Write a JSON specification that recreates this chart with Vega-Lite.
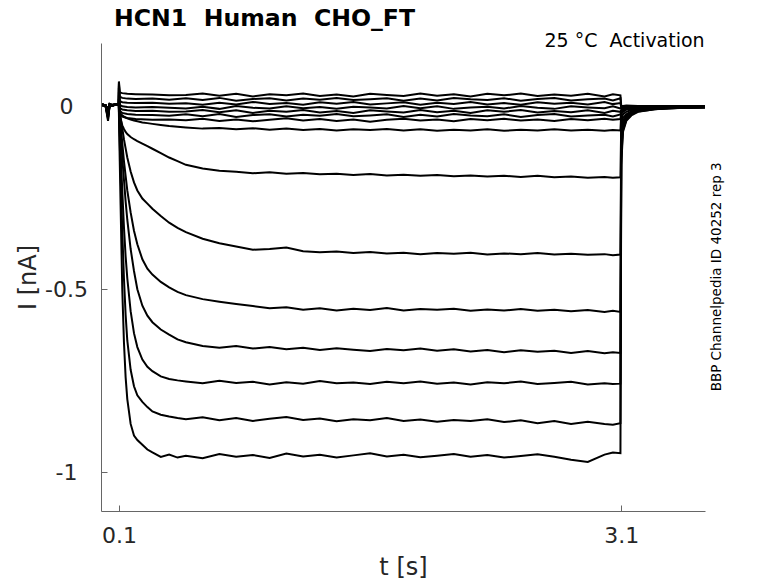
{
  "$schema": "https://vega.github.io/schema/vega-lite/v6.json",
  "width": 604,
  "height": 468,
  "autosize": {"type": "none"},
  "padding": {"left": 101, "top": 43, "right": 73, "bottom": 72},
  "background": "white",
  "config": {
    "view": {"stroke": null},
    "font": "DejaVu Sans",
    "axis": {
      "grid": false,
      "domainColor": "#666666",
      "domainWidth": 1,
      "tickColor": "#666666",
      "tickWidth": 1,
      "tickSize": -6,
      "labelColor": "#262626",
      "titleColor": "#262626",
      "labelFont": "DejaVu Sans",
      "titleFont": "DejaVu Sans",
      "labelFontSize": 22,
      "titleFontSize": 24,
      "titleFontWeight": "normal"
    }
  },
  "title": {
    "text": "HCN1\u00a0 Human\u00a0 CHO_FT",
    "anchor": "start",
    "frame": "group",
    "dx": 13,
    "offset": -18,
    "baseline": "alphabetic",
    "font": "DejaVu Sans",
    "fontSize": 23.6,
    "fontWeight": "bold",
    "color": "#000000"
  },
  "layer": [
    {
      "data": {
        "values": [
          {"s":"a","t":0,"v":0.004},{"s":"a","t":0.02,"v":0.001},{"s":"a","t":0.035,"v":-0.04},{"s":"a","t":0.045,"v":0.006},{"s":"a","t":0.06,"v":0.002},{"s":"a","t":0.08,"v":0.006},{"s":"a","t":0.099,"v":0.004},
          {"s":"a","t":0.1,"v":-0.02},{"s":"a","t":0.105,"v":-0.15},{"s":"a","t":0.11,"v":-0.27},{"s":"a","t":0.12,"v":-0.5},{"s":"a","t":0.13,"v":-0.645},{"s":"a","t":0.14,"v":-0.74},{"s":"a","t":0.15,"v":-0.8},{"s":"a","t":0.17,"v":-0.868},{"s":"a","t":0.19,"v":-0.9},{"s":"a","t":0.21,"v":-0.912},{"s":"a","t":0.24,"v":-0.925},{"s":"a","t":0.27,"v":-0.938},{"s":"a","t":0.3,"v":-0.946},{"s":"a","t":0.35,"v":-0.958},{"s":"a","t":0.4,"v":-0.952},{"s":"a","t":0.45,"v":-0.96},
          {"s":"a","t":0.5,"v":-0.955},{"s":"a","t":0.6,"v":-0.962},{"s":"a","t":0.7,"v":-0.95},{"s":"a","t":0.8,"v":-0.958},{"s":"a","t":0.9,"v":-0.953},{"s":"a","t":1,"v":-0.961},{"s":"a","t":1.1,"v":-0.949},{"s":"a","t":1.2,"v":-0.957},{"s":"a","t":1.3,"v":-0.952},{"s":"a","t":1.4,"v":-0.96},{"s":"a","t":1.5,"v":-0.954},{"s":"a","t":1.6,"v":-0.948},{"s":"a","t":1.7,"v":-0.957},{"s":"a","t":1.8,"v":-0.952},{"s":"a","t":1.9,"v":-0.959},{"s":"a","t":2,"v":-0.955},{"s":"a","t":2.1,"v":-0.95},{"s":"a","t":2.2,"v":-0.958},{"s":"a","t":2.3,"v":-0.953},{"s":"a","t":2.4,"v":-0.96},{"s":"a","t":2.5,"v":-0.956},{"s":"a","t":2.6,"v":-0.951},{"s":"a","t":2.7,"v":-0.958},{"s":"a","t":2.8,"v":-0.966},{"s":"a","t":2.9,"v":-0.972},{"s":"a","t":3,"v":-0.952},{"s":"a","t":3.05,"v":-0.946},{"s":"a","t":3.095,"v":-0.948},
          {"s":"a","t":3.1,"v":-0.16},{"s":"a","t":3.11,"v":-0.07},{"s":"a","t":3.13,"v":-0.04},{"s":"a","t":3.16,"v":-0.025},{"s":"a","t":3.2,"v":-0.015},{"s":"a","t":3.3,"v":-0.008},{"s":"a","t":3.4,"v":-0.004},{"s":"a","t":3.5,"v":-0.003},{"s":"a","t":3.6,"v":-0.002},

          {"s":"b","t":0,"v":0.005},{"s":"b","t":0.02,"v":0.002},{"s":"b","t":0.035,"v":-0.035},{"s":"b","t":0.045,"v":0.005},{"s":"b","t":0.06,"v":0.001},{"s":"b","t":0.08,"v":0.005},{"s":"b","t":0.099,"v":0.004},
          {"s":"b","t":0.1,"v":-0.01},{"s":"b","t":0.105,"v":-0.1},{"s":"b","t":0.11,"v":-0.18},{"s":"b","t":0.12,"v":-0.34},{"s":"b","t":0.13,"v":-0.47},{"s":"b","t":0.14,"v":-0.57},{"s":"b","t":0.15,"v":-0.64},{"s":"b","t":0.17,"v":-0.72},{"s":"b","t":0.19,"v":-0.765},{"s":"b","t":0.21,"v":-0.79},{"s":"b","t":0.24,"v":-0.808},{"s":"b","t":0.27,"v":-0.822},{"s":"b","t":0.3,"v":-0.834},{"s":"b","t":0.35,"v":-0.843},{"s":"b","t":0.4,"v":-0.848},{"s":"b","t":0.45,"v":-0.852},
          {"s":"b","t":0.5,"v":-0.855},{"s":"b","t":0.6,"v":-0.85},{"s":"b","t":0.7,"v":-0.858},{"s":"b","t":0.8,"v":-0.852},{"s":"b","t":0.9,"v":-0.86},{"s":"b","t":1,"v":-0.854},{"s":"b","t":1.1,"v":-0.849},{"s":"b","t":1.2,"v":-0.857},{"s":"b","t":1.3,"v":-0.853},{"s":"b","t":1.4,"v":-0.861},{"s":"b","t":1.5,"v":-0.855},{"s":"b","t":1.6,"v":-0.858},{"s":"b","t":1.7,"v":-0.852},{"s":"b","t":1.8,"v":-0.86},{"s":"b","t":1.9,"v":-0.856},{"s":"b","t":2,"v":-0.862},{"s":"b","t":2.1,"v":-0.857},{"s":"b","t":2.2,"v":-0.86},{"s":"b","t":2.3,"v":-0.855},{"s":"b","t":2.4,"v":-0.863},{"s":"b","t":2.5,"v":-0.858},{"s":"b","t":2.6,"v":-0.866},{"s":"b","t":2.7,"v":-0.86},{"s":"b","t":2.8,"v":-0.868},{"s":"b","t":2.9,"v":-0.862},{"s":"b","t":3,"v":-0.868},{"s":"b","t":3.05,"v":-0.87},{"s":"b","t":3.095,"v":-0.866},
          {"s":"b","t":3.1,"v":-0.14},{"s":"b","t":3.11,"v":-0.065},{"s":"b","t":3.13,"v":-0.037},{"s":"b","t":3.16,"v":-0.022},{"s":"b","t":3.2,"v":-0.014},{"s":"b","t":3.3,"v":-0.008},{"s":"b","t":3.4,"v":-0.005},{"s":"b","t":3.5,"v":-0.003},{"s":"b","t":3.6,"v":-0.003},

          {"s":"c","t":0,"v":0.003},{"s":"c","t":0.02,"v":0.001},{"s":"c","t":0.035,"v":-0.03},{"s":"c","t":0.045,"v":0.004},{"s":"c","t":0.06,"v":0.003},{"s":"c","t":0.08,"v":0.006},{"s":"c","t":0.099,"v":0.004},
          {"s":"c","t":0.1,"v":-0.005},{"s":"c","t":0.105,"v":-0.07},{"s":"c","t":0.11,"v":-0.12},{"s":"c","t":0.12,"v":-0.23},{"s":"c","t":0.13,"v":-0.33},{"s":"c","t":0.14,"v":-0.41},{"s":"c","t":0.15,"v":-0.47},{"s":"c","t":0.17,"v":-0.56},{"s":"c","t":0.19,"v":-0.62},{"s":"c","t":0.21,"v":-0.658},{"s":"c","t":0.24,"v":-0.692},{"s":"c","t":0.27,"v":-0.712},{"s":"c","t":0.3,"v":-0.724},{"s":"c","t":0.35,"v":-0.738},{"s":"c","t":0.4,"v":-0.745},{"s":"c","t":0.45,"v":-0.749},
          {"s":"c","t":0.5,"v":-0.752},{"s":"c","t":0.6,"v":-0.757},{"s":"c","t":0.7,"v":-0.75},{"s":"c","t":0.8,"v":-0.756},{"s":"c","t":0.9,"v":-0.753},{"s":"c","t":1,"v":-0.76},{"s":"c","t":1.1,"v":-0.754},{"s":"c","t":1.2,"v":-0.758},{"s":"c","t":1.3,"v":-0.751},{"s":"c","t":1.4,"v":-0.757},{"s":"c","t":1.5,"v":-0.755},{"s":"c","t":1.6,"v":-0.759},{"s":"c","t":1.7,"v":-0.753},{"s":"c","t":1.8,"v":-0.757},{"s":"c","t":1.9,"v":-0.752},{"s":"c","t":2,"v":-0.758},{"s":"c","t":2.1,"v":-0.755},{"s":"c","t":2.2,"v":-0.76},{"s":"c","t":2.3,"v":-0.754},{"s":"c","t":2.4,"v":-0.757},{"s":"c","t":2.5,"v":-0.752},{"s":"c","t":2.6,"v":-0.759},{"s":"c","t":2.7,"v":-0.756},{"s":"c","t":2.8,"v":-0.753},{"s":"c","t":2.9,"v":-0.76},{"s":"c","t":3,"v":-0.757},{"s":"c","t":3.05,"v":-0.759},{"s":"c","t":3.095,"v":-0.758},
          {"s":"c","t":3.1,"v":-0.12},{"s":"c","t":3.11,"v":-0.055},{"s":"c","t":3.13,"v":-0.033},{"s":"c","t":3.16,"v":-0.02},{"s":"c","t":3.2,"v":-0.013},{"s":"c","t":3.3,"v":-0.007},{"s":"c","t":3.4,"v":-0.005},{"s":"c","t":3.5,"v":-0.004},{"s":"c","t":3.6,"v":-0.003},

          {"s":"d","t":0,"v":0.004},{"s":"d","t":0.02,"v":0.003},{"s":"d","t":0.035,"v":-0.025},{"s":"d","t":0.045,"v":0.006},{"s":"d","t":0.06,"v":0.002},{"s":"d","t":0.08,"v":0.004},{"s":"d","t":0.099,"v":0.004},
          {"s":"d","t":0.1,"v":0},{"s":"d","t":0.105,"v":-0.04},{"s":"d","t":0.11,"v":-0.07},{"s":"d","t":0.12,"v":-0.14},{"s":"d","t":0.13,"v":-0.2},{"s":"d","t":0.14,"v":-0.26},{"s":"d","t":0.15,"v":-0.31},{"s":"d","t":0.17,"v":-0.39},{"s":"d","t":0.19,"v":-0.45},{"s":"d","t":0.21,"v":-0.5},{"s":"d","t":0.24,"v":-0.545},{"s":"d","t":0.27,"v":-0.572},{"s":"d","t":0.3,"v":-0.59},{"s":"d","t":0.35,"v":-0.61},{"s":"d","t":0.4,"v":-0.624},{"s":"d","t":0.45,"v":-0.637},
          {"s":"d","t":0.5,"v":-0.645},{"s":"d","t":0.6,"v":-0.655},{"s":"d","t":0.7,"v":-0.66},{"s":"d","t":0.8,"v":-0.655},{"s":"d","t":0.9,"v":-0.662},{"s":"d","t":1,"v":-0.658},{"s":"d","t":1.1,"v":-0.664},{"s":"d","t":1.2,"v":-0.66},{"s":"d","t":1.3,"v":-0.666},{"s":"d","t":1.4,"v":-0.661},{"s":"d","t":1.5,"v":-0.665},{"s":"d","t":1.6,"v":-0.669},{"s":"d","t":1.7,"v":-0.663},{"s":"d","t":1.8,"v":-0.667},{"s":"d","t":1.9,"v":-0.662},{"s":"d","t":2,"v":-0.668},{"s":"d","t":2.1,"v":-0.664},{"s":"d","t":2.2,"v":-0.67},{"s":"d","t":2.3,"v":-0.666},{"s":"d","t":2.4,"v":-0.672},{"s":"d","t":2.5,"v":-0.667},{"s":"d","t":2.6,"v":-0.671},{"s":"d","t":2.7,"v":-0.668},{"s":"d","t":2.8,"v":-0.674},{"s":"d","t":2.9,"v":-0.669},{"s":"d","t":3,"v":-0.675},{"s":"d","t":3.05,"v":-0.672},{"s":"d","t":3.095,"v":-0.674},
          {"s":"d","t":3.1,"v":-0.1},{"s":"d","t":3.11,"v":-0.048},{"s":"d","t":3.13,"v":-0.03},{"s":"d","t":3.16,"v":-0.018},{"s":"d","t":3.2,"v":-0.012},{"s":"d","t":3.3,"v":-0.007},{"s":"d","t":3.4,"v":-0.005},{"s":"d","t":3.5,"v":-0.003},{"s":"d","t":3.6,"v":-0.003},

          {"s":"e","t":0,"v":0.003},{"s":"e","t":0.02,"v":0.001},{"s":"e","t":0.035,"v":-0.022},{"s":"e","t":0.045,"v":0.004},{"s":"e","t":0.06,"v":0.004},{"s":"e","t":0.08,"v":0.006},{"s":"e","t":0.099,"v":0.004},
          {"s":"e","t":0.1,"v":0.005},{"s":"e","t":0.105,"v":-0.025},{"s":"e","t":0.11,"v":-0.05},{"s":"e","t":0.12,"v":-0.1},{"s":"e","t":0.13,"v":-0.15},{"s":"e","t":0.14,"v":-0.19},{"s":"e","t":0.15,"v":-0.23},{"s":"e","t":0.17,"v":-0.29},{"s":"e","t":0.19,"v":-0.34},{"s":"e","t":0.21,"v":-0.377},{"s":"e","t":0.24,"v":-0.418},{"s":"e","t":0.27,"v":-0.444},{"s":"e","t":0.3,"v":-0.46},{"s":"e","t":0.35,"v":-0.48},{"s":"e","t":0.4,"v":-0.495},{"s":"e","t":0.45,"v":-0.507},
          {"s":"e","t":0.5,"v":-0.516},{"s":"e","t":0.6,"v":-0.527},{"s":"e","t":0.7,"v":-0.534},{"s":"e","t":0.8,"v":-0.54},{"s":"e","t":0.9,"v":-0.546},{"s":"e","t":1,"v":-0.552},{"s":"e","t":1.1,"v":-0.549},{"s":"e","t":1.2,"v":-0.556},{"s":"e","t":1.3,"v":-0.552},{"s":"e","t":1.4,"v":-0.558},{"s":"e","t":1.5,"v":-0.553},{"s":"e","t":1.6,"v":-0.557},{"s":"e","t":1.7,"v":-0.551},{"s":"e","t":1.8,"v":-0.558},{"s":"e","t":1.9,"v":-0.554},{"s":"e","t":2,"v":-0.556},{"s":"e","t":2.1,"v":-0.553},{"s":"e","t":2.2,"v":-0.559},{"s":"e","t":2.3,"v":-0.555},{"s":"e","t":2.4,"v":-0.558},{"s":"e","t":2.5,"v":-0.554},{"s":"e","t":2.6,"v":-0.559},{"s":"e","t":2.7,"v":-0.556},{"s":"e","t":2.8,"v":-0.56},{"s":"e","t":2.9,"v":-0.557},{"s":"e","t":3,"v":-0.562},{"s":"e","t":3.05,"v":-0.559},{"s":"e","t":3.095,"v":-0.562},
          {"s":"e","t":3.1,"v":-0.08},{"s":"e","t":3.11,"v":-0.04},{"s":"e","t":3.13,"v":-0.026},{"s":"e","t":3.16,"v":-0.016},{"s":"e","t":3.2,"v":-0.011},{"s":"e","t":3.3,"v":-0.006},{"s":"e","t":3.4,"v":-0.004},{"s":"e","t":3.5,"v":-0.003},{"s":"e","t":3.6,"v":-0.002},

          {"s":"f","t":0,"v":0.005},{"s":"f","t":0.02,"v":0.002},{"s":"f","t":0.035,"v":-0.02},{"s":"f","t":0.045,"v":0.005},{"s":"f","t":0.06,"v":0.002},{"s":"f","t":0.08,"v":0.005},{"s":"f","t":0.099,"v":0.004},
          {"s":"f","t":0.1,"v":0.01},{"s":"f","t":0.105,"v":-0.015},{"s":"f","t":0.11,"v":-0.03},{"s":"f","t":0.12,"v":-0.06},{"s":"f","t":0.13,"v":-0.09},{"s":"f","t":0.14,"v":-0.115},{"s":"f","t":0.15,"v":-0.14},{"s":"f","t":0.17,"v":-0.178},{"s":"f","t":0.19,"v":-0.208},{"s":"f","t":0.21,"v":-0.23},{"s":"f","t":0.24,"v":-0.252},{"s":"f","t":0.27,"v":-0.266},{"s":"f","t":0.3,"v":-0.28},{"s":"f","t":0.35,"v":-0.3},{"s":"f","t":0.4,"v":-0.318},{"s":"f","t":0.45,"v":-0.332},
          {"s":"f","t":0.5,"v":-0.344},{"s":"f","t":0.6,"v":-0.362},{"s":"f","t":0.7,"v":-0.374},{"s":"f","t":0.8,"v":-0.383},{"s":"f","t":0.9,"v":-0.392},{"s":"f","t":1,"v":-0.39},{"s":"f","t":1.1,"v":-0.386},{"s":"f","t":1.2,"v":-0.396},{"s":"f","t":1.3,"v":-0.399},{"s":"f","t":1.4,"v":-0.397},{"s":"f","t":1.5,"v":-0.401},{"s":"f","t":1.6,"v":-0.398},{"s":"f","t":1.7,"v":-0.402},{"s":"f","t":1.8,"v":-0.4},{"s":"f","t":1.9,"v":-0.404},{"s":"f","t":2,"v":-0.401},{"s":"f","t":2.1,"v":-0.403},{"s":"f","t":2.2,"v":-0.4},{"s":"f","t":2.3,"v":-0.405},{"s":"f","t":2.4,"v":-0.402},{"s":"f","t":2.5,"v":-0.404},{"s":"f","t":2.6,"v":-0.401},{"s":"f","t":2.7,"v":-0.405},{"s":"f","t":2.8,"v":-0.403},{"s":"f","t":2.9,"v":-0.406},{"s":"f","t":3,"v":-0.404},{"s":"f","t":3.05,"v":-0.407},{"s":"f","t":3.095,"v":-0.405},
          {"s":"f","t":3.1,"v":-0.06},{"s":"f","t":3.11,"v":-0.032},{"s":"f","t":3.13,"v":-0.022},{"s":"f","t":3.16,"v":-0.014},{"s":"f","t":3.2,"v":-0.009},{"s":"f","t":3.3,"v":-0.005},{"s":"f","t":3.4,"v":-0.004},{"s":"f","t":3.5,"v":-0.003},{"s":"f","t":3.6,"v":-0.002},

          {"s":"g","t":0,"v":0.004},{"s":"g","t":0.02,"v":0.003},{"s":"g","t":0.035,"v":-0.018},{"s":"g","t":0.045,"v":0.004},{"s":"g","t":0.06,"v":0.001},{"s":"g","t":0.08,"v":0.005},{"s":"g","t":0.099,"v":0.004},
          {"s":"g","t":0.1,"v":0.02},{"s":"g","t":0.105,"v":-0.02},{"s":"g","t":0.11,"v":-0.035},{"s":"g","t":0.12,"v":-0.052},{"s":"g","t":0.13,"v":-0.062},{"s":"g","t":0.14,"v":-0.07},{"s":"g","t":0.15,"v":-0.076},{"s":"g","t":0.17,"v":-0.084},{"s":"g","t":0.19,"v":-0.09},{"s":"g","t":0.21,"v":-0.095},{"s":"g","t":0.24,"v":-0.102},{"s":"g","t":0.27,"v":-0.109},{"s":"g","t":0.3,"v":-0.116},{"s":"g","t":0.35,"v":-0.128},{"s":"g","t":0.4,"v":-0.14},{"s":"g","t":0.45,"v":-0.15},
          {"s":"g","t":0.5,"v":-0.16},{"s":"g","t":0.6,"v":-0.17},{"s":"g","t":0.7,"v":-0.176},{"s":"g","t":0.8,"v":-0.179},{"s":"g","t":0.9,"v":-0.183},{"s":"g","t":1,"v":-0.18},{"s":"g","t":1.1,"v":-0.184},{"s":"g","t":1.2,"v":-0.182},{"s":"g","t":1.3,"v":-0.186},{"s":"g","t":1.4,"v":-0.184},{"s":"g","t":1.5,"v":-0.188},{"s":"g","t":1.6,"v":-0.185},{"s":"g","t":1.7,"v":-0.189},{"s":"g","t":1.8,"v":-0.187},{"s":"g","t":1.9,"v":-0.19},{"s":"g","t":2,"v":-0.188},{"s":"g","t":2.1,"v":-0.191},{"s":"g","t":2.2,"v":-0.189},{"s":"g","t":2.3,"v":-0.192},{"s":"g","t":2.4,"v":-0.19},{"s":"g","t":2.5,"v":-0.193},{"s":"g","t":2.6,"v":-0.19},{"s":"g","t":2.7,"v":-0.194},{"s":"g","t":2.8,"v":-0.192},{"s":"g","t":2.9,"v":-0.195},{"s":"g","t":3,"v":-0.193},{"s":"g","t":3.05,"v":-0.195},{"s":"g","t":3.095,"v":-0.194},
          {"s":"g","t":3.1,"v":-0.04},{"s":"g","t":3.11,"v":-0.022},{"s":"g","t":3.13,"v":-0.015},{"s":"g","t":3.16,"v":-0.01},{"s":"g","t":3.2,"v":-0.007},{"s":"g","t":3.3,"v":-0.005},{"s":"g","t":3.4,"v":-0.003},{"s":"g","t":3.5,"v":-0.003},{"s":"g","t":3.6,"v":-0.002},

          {"s":"h","t":0,"v":0.005},{"s":"h","t":0.02,"v":0.002},{"s":"h","t":0.035,"v":-0.015},{"s":"h","t":0.045,"v":0.006},{"s":"h","t":0.06,"v":0.003},{"s":"h","t":0.08,"v":0.005},{"s":"h","t":0.099,"v":0.004},
          {"s":"h","t":0.1,"v":0.03},{"s":"h","t":0.105,"v":-0.012},{"s":"h","t":0.11,"v":-0.02},{"s":"h","t":0.12,"v":-0.025},{"s":"h","t":0.13,"v":-0.028},{"s":"h","t":0.14,"v":-0.031},{"s":"h","t":0.15,"v":-0.033},{"s":"h","t":0.17,"v":-0.036},{"s":"h","t":0.19,"v":-0.039},{"s":"h","t":0.21,"v":-0.041},{"s":"h","t":0.24,"v":-0.044},{"s":"h","t":0.27,"v":-0.046},{"s":"h","t":0.3,"v":-0.048},{"s":"h","t":0.35,"v":-0.051},{"s":"h","t":0.4,"v":-0.054},{"s":"h","t":0.45,"v":-0.056},
          {"s":"h","t":0.5,"v":-0.058},{"s":"h","t":0.6,"v":-0.061},{"s":"h","t":0.7,"v":-0.059},{"s":"h","t":0.8,"v":-0.063},{"s":"h","t":0.9,"v":-0.06},{"s":"h","t":1,"v":-0.064},{"s":"h","t":1.1,"v":-0.061},{"s":"h","t":1.2,"v":-0.065},{"s":"h","t":1.3,"v":-0.062},{"s":"h","t":1.4,"v":-0.066},{"s":"h","t":1.5,"v":-0.063},{"s":"h","t":1.6,"v":-0.065},{"s":"h","t":1.7,"v":-0.062},{"s":"h","t":1.8,"v":-0.066},{"s":"h","t":1.9,"v":-0.063},{"s":"h","t":2,"v":-0.067},{"s":"h","t":2.1,"v":-0.064},{"s":"h","t":2.2,"v":-0.066},{"s":"h","t":2.3,"v":-0.063},{"s":"h","t":2.4,"v":-0.067},{"s":"h","t":2.5,"v":-0.064},{"s":"h","t":2.6,"v":-0.066},{"s":"h","t":2.7,"v":-0.063},{"s":"h","t":2.8,"v":-0.066},{"s":"h","t":2.9,"v":-0.064},{"s":"h","t":3,"v":-0.067},{"s":"h","t":3.05,"v":-0.065},{"s":"h","t":3.095,"v":-0.066},
          {"s":"h","t":3.1,"v":-0.02},{"s":"h","t":3.11,"v":-0.012},{"s":"h","t":3.13,"v":-0.009},{"s":"h","t":3.16,"v":-0.007},{"s":"h","t":3.2,"v":-0.005},{"s":"h","t":3.3,"v":-0.004},{"s":"h","t":3.4,"v":-0.003},{"s":"h","t":3.5,"v":-0.002},{"s":"h","t":3.6,"v":-0.002},

          {"s":"i","t":0,"v":0.005},{"s":"i","t":0.02,"v":0.002},{"s":"i","t":0.035,"v":-0.03},{"s":"i","t":0.045,"v":0.006},{"s":"i","t":0.06,"v":0.003},{"s":"i","t":0.08,"v":0.005},{"s":"i","t":0.099,"v":0.004},
          {"s":"i","t":0.1,"v":0.02},{"s":"i","t":0.105,"v":-0.02},{"s":"i","t":0.12,"v":-0.028},{"s":"i","t":0.15,"v":-0.032},{"s":"i","t":0.2,"v":-0.035},{"s":"i","t":0.3,"v":-0.037},{"s":"i","t":0.4,"v":-0.036},
          {"s":"i","t":0.5,"v":-0.038},{"s":"i","t":0.6,"v":-0.034},{"s":"i","t":0.7,"v":-0.04},{"s":"i","t":0.8,"v":-0.036},{"s":"i","t":0.9,"v":-0.041},{"s":"i","t":1,"v":-0.037},{"s":"i","t":1.1,"v":-0.033},{"s":"i","t":1.2,"v":-0.039},{"s":"i","t":1.3,"v":-0.035},{"s":"i","t":1.4,"v":-0.04},{"s":"i","t":1.5,"v":-0.036},{"s":"i","t":1.6,"v":-0.042},{"s":"i","t":1.7,"v":-0.037},{"s":"i","t":1.8,"v":-0.034},{"s":"i","t":1.9,"v":-0.039},{"s":"i","t":2,"v":-0.036},{"s":"i","t":2.1,"v":-0.041},{"s":"i","t":2.2,"v":-0.035},{"s":"i","t":2.3,"v":-0.038},{"s":"i","t":2.4,"v":-0.034},{"s":"i","t":2.5,"v":-0.039},{"s":"i","t":2.6,"v":-0.036},{"s":"i","t":2.7,"v":-0.04},{"s":"i","t":2.8,"v":-0.035},{"s":"i","t":2.9,"v":-0.038},{"s":"i","t":3,"v":-0.034},{"s":"i","t":3.05,"v":-0.037},{"s":"i","t":3.095,"v":-0.035},
          {"s":"i","t":3.1,"v":-0.02},{"s":"i","t":3.13,"v":-0.008},{"s":"i","t":3.2,"v":-0.003},{"s":"i","t":3.3,"v":-0.001},{"s":"i","t":3.4,"v":0},{"s":"i","t":3.5,"v":-0.001},{"s":"i","t":3.6,"v":0},

          {"s":"j","t":0,"v":0.004},{"s":"j","t":0.02,"v":0.003},{"s":"j","t":0.035,"v":-0.025},{"s":"j","t":0.045,"v":0.005},{"s":"j","t":0.06,"v":0.002},{"s":"j","t":0.08,"v":0.006},{"s":"j","t":0.099,"v":0.004},
          {"s":"j","t":0.1,"v":0.04},{"s":"j","t":0.105,"v":-0.012},{"s":"j","t":0.12,"v":-0.018},{"s":"j","t":0.15,"v":-0.021},{"s":"j","t":0.2,"v":-0.023},{"s":"j","t":0.3,"v":-0.024},{"s":"j","t":0.4,"v":-0.026},
          {"s":"j","t":0.5,"v":-0.022},{"s":"j","t":0.6,"v":-0.027},{"s":"j","t":0.7,"v":-0.021},{"s":"j","t":0.8,"v":-0.029},{"s":"j","t":0.9,"v":-0.024},{"s":"j","t":1,"v":-0.022},{"s":"j","t":1.1,"v":-0.028},{"s":"j","t":1.2,"v":-0.023},{"s":"j","t":1.3,"v":-0.026},{"s":"j","t":1.4,"v":-0.021},{"s":"j","t":1.5,"v":-0.027},{"s":"j","t":1.6,"v":-0.025},{"s":"j","t":1.7,"v":-0.022},{"s":"j","t":1.8,"v":-0.029},{"s":"j","t":1.9,"v":-0.023},{"s":"j","t":2,"v":-0.028},{"s":"j","t":2.1,"v":-0.021},{"s":"j","t":2.2,"v":-0.025},{"s":"j","t":2.3,"v":-0.027},{"s":"j","t":2.4,"v":-0.022},{"s":"j","t":2.5,"v":-0.029},{"s":"j","t":2.6,"v":-0.024},{"s":"j","t":2.7,"v":-0.021},{"s":"j","t":2.8,"v":-0.028},{"s":"j","t":2.9,"v":-0.025},{"s":"j","t":3,"v":-0.023},{"s":"j","t":3.05,"v":-0.028},{"s":"j","t":3.095,"v":-0.022},
          {"s":"j","t":3.1,"v":-0.015},{"s":"j","t":3.13,"v":-0.006},{"s":"j","t":3.2,"v":-0.002},{"s":"j","t":3.3,"v":0},{"s":"j","t":3.4,"v":-0.001},{"s":"j","t":3.5,"v":0.001},{"s":"j","t":3.6,"v":0},

          {"s":"k","t":0,"v":0.006},{"s":"k","t":0.02,"v":0.002},{"s":"k","t":0.035,"v":-0.02},{"s":"k","t":0.045,"v":0.004},{"s":"k","t":0.06,"v":0.003},{"s":"k","t":0.08,"v":0.004},{"s":"k","t":0.099,"v":0.004},
          {"s":"k","t":0.1,"v":0.05},{"s":"k","t":0.105,"v":-0.004},{"s":"k","t":0.12,"v":-0.009},{"s":"k","t":0.15,"v":-0.011},{"s":"k","t":0.2,"v":-0.013},{"s":"k","t":0.3,"v":-0.012},{"s":"k","t":0.4,"v":-0.015},
          {"s":"k","t":0.5,"v":-0.014},{"s":"k","t":0.6,"v":-0.01},{"s":"k","t":0.7,"v":-0.016},{"s":"k","t":0.8,"v":-0.011},{"s":"k","t":0.9,"v":-0.018},{"s":"k","t":1,"v":-0.012},{"s":"k","t":1.1,"v":-0.015},{"s":"k","t":1.2,"v":-0.01},{"s":"k","t":1.3,"v":-0.017},{"s":"k","t":1.4,"v":-0.013},{"s":"k","t":1.5,"v":-0.018},{"s":"k","t":1.6,"v":-0.011},{"s":"k","t":1.7,"v":-0.014},{"s":"k","t":1.8,"v":-0.017},{"s":"k","t":1.9,"v":-0.01},{"s":"k","t":2,"v":-0.016},{"s":"k","t":2.1,"v":-0.012},{"s":"k","t":2.2,"v":-0.018},{"s":"k","t":2.3,"v":-0.011},{"s":"k","t":2.4,"v":-0.015},{"s":"k","t":2.5,"v":-0.01},{"s":"k","t":2.6,"v":-0.017},{"s":"k","t":2.7,"v":-0.013},{"s":"k","t":2.8,"v":-0.016},{"s":"k","t":2.9,"v":-0.011},{"s":"k","t":3,"v":-0.018},{"s":"k","t":3.05,"v":-0.012},{"s":"k","t":3.095,"v":-0.015},
          {"s":"k","t":3.1,"v":-0.01},{"s":"k","t":3.13,"v":-0.004},{"s":"k","t":3.2,"v":-0.001},{"s":"k","t":3.3,"v":0.001},{"s":"k","t":3.4,"v":0},{"s":"k","t":3.5,"v":-0.001},{"s":"k","t":3.6,"v":0.001},

          {"s":"l","t":0,"v":0.005},{"s":"l","t":0.02,"v":0.001},{"s":"l","t":0.035,"v":-0.015},{"s":"l","t":0.045,"v":0.006},{"s":"l","t":0.06,"v":0.004},{"s":"l","t":0.08,"v":0.005},{"s":"l","t":0.099,"v":0.004},
          {"s":"l","t":0.1,"v":0.055},{"s":"l","t":0.105,"v":0.004},{"s":"l","t":0.12,"v":0},{"s":"l","t":0.15,"v":-0.002},{"s":"l","t":0.2,"v":-0.003},{"s":"l","t":0.3,"v":-0.002},{"s":"l","t":0.4,"v":-0.004},
          {"s":"l","t":0.5,"v":-0.006},{"s":"l","t":0.6,"v":-0.001},{"s":"l","t":0.7,"v":-0.007},{"s":"l","t":0.8,"v":0.001},{"s":"l","t":0.9,"v":-0.004},{"s":"l","t":1,"v":-0.006},{"s":"l","t":1.1,"v":0},{"s":"l","t":1.2,"v":-0.005},{"s":"l","t":1.3,"v":-0.002},{"s":"l","t":1.4,"v":-0.007},{"s":"l","t":1.5,"v":-0.001},{"s":"l","t":1.6,"v":-0.003},{"s":"l","t":1.7,"v":-0.006},{"s":"l","t":1.8,"v":0.001},{"s":"l","t":1.9,"v":-0.005},{"s":"l","t":2,"v":0},{"s":"l","t":2.1,"v":-0.007},{"s":"l","t":2.2,"v":-0.003},{"s":"l","t":2.3,"v":-0.001},{"s":"l","t":2.4,"v":-0.006},{"s":"l","t":2.5,"v":0.001},{"s":"l","t":2.6,"v":-0.004},{"s":"l","t":2.7,"v":-0.007},{"s":"l","t":2.8,"v":0},{"s":"l","t":2.9,"v":-0.003},{"s":"l","t":3,"v":-0.005},{"s":"l","t":3.05,"v":0},{"s":"l","t":3.095,"v":-0.006},
          {"s":"l","t":3.1,"v":-0.006},{"s":"l","t":3.13,"v":-0.002},{"s":"l","t":3.2,"v":0},{"s":"l","t":3.3,"v":0.001},{"s":"l","t":3.4,"v":-0.001},{"s":"l","t":3.5,"v":0.001},{"s":"l","t":3.6,"v":0},

          {"s":"m","t":0,"v":0.004},{"s":"m","t":0.02,"v":0.003},{"s":"m","t":0.035,"v":-0.01},{"s":"m","t":0.045,"v":0.005},{"s":"m","t":0.06,"v":0.002},{"s":"m","t":0.08,"v":0.006},{"s":"m","t":0.099,"v":0.004},
          {"s":"m","t":0.1,"v":0.06},{"s":"m","t":0.105,"v":0.014},{"s":"m","t":0.12,"v":0.011},{"s":"m","t":0.15,"v":0.01},{"s":"m","t":0.2,"v":0.009},{"s":"m","t":0.3,"v":0.01},{"s":"m","t":0.4,"v":0.007},
          {"s":"m","t":0.5,"v":0.008},{"s":"m","t":0.6,"v":0.004},{"s":"m","t":0.7,"v":0.01},{"s":"m","t":0.8,"v":0.005},{"s":"m","t":0.9,"v":0.012},{"s":"m","t":1,"v":0.006},{"s":"m","t":1.1,"v":0.009},{"s":"m","t":1.2,"v":0.004},{"s":"m","t":1.3,"v":0.011},{"s":"m","t":1.4,"v":0.007},{"s":"m","t":1.5,"v":0.012},{"s":"m","t":1.6,"v":0.005},{"s":"m","t":1.7,"v":0.008},{"s":"m","t":1.8,"v":0.011},{"s":"m","t":1.9,"v":0.004},{"s":"m","t":2,"v":0.01},{"s":"m","t":2.1,"v":0.006},{"s":"m","t":2.2,"v":0.012},{"s":"m","t":2.3,"v":0.005},{"s":"m","t":2.4,"v":0.009},{"s":"m","t":2.5,"v":0.004},{"s":"m","t":2.6,"v":0.011},{"s":"m","t":2.7,"v":0.007},{"s":"m","t":2.8,"v":0.01},{"s":"m","t":2.9,"v":0.005},{"s":"m","t":3,"v":0.012},{"s":"m","t":3.05,"v":0.006},{"s":"m","t":3.095,"v":0.009},
          {"s":"m","t":3.1,"v":-0.004},{"s":"m","t":3.13,"v":0},{"s":"m","t":3.2,"v":0.001},{"s":"m","t":3.3,"v":0},{"s":"m","t":3.4,"v":0.001},{"s":"m","t":3.5,"v":-0.001},{"s":"m","t":3.6,"v":0.001},

          {"s":"n","t":0,"v":0.005},{"s":"n","t":0.02,"v":0.002},{"s":"n","t":0.035,"v":-0.008},{"s":"n","t":0.045,"v":0.006},{"s":"n","t":0.06,"v":0.003},{"s":"n","t":0.08,"v":0.004},{"s":"n","t":0.099,"v":0.004},
          {"s":"n","t":0.1,"v":0.065},{"s":"n","t":0.105,"v":0.026},{"s":"n","t":0.12,"v":0.023},{"s":"n","t":0.15,"v":0.021},{"s":"n","t":0.2,"v":0.02},{"s":"n","t":0.3,"v":0.021},{"s":"n","t":0.4,"v":0.018},
          {"s":"n","t":0.5,"v":0.022},{"s":"n","t":0.6,"v":0.017},{"s":"n","t":0.7,"v":0.023},{"s":"n","t":0.8,"v":0.015},{"s":"n","t":0.9,"v":0.02},{"s":"n","t":1,"v":0.022},{"s":"n","t":1.1,"v":0.016},{"s":"n","t":1.2,"v":0.021},{"s":"n","t":1.3,"v":0.018},{"s":"n","t":1.4,"v":0.023},{"s":"n","t":1.5,"v":0.017},{"s":"n","t":1.6,"v":0.019},{"s":"n","t":1.7,"v":0.022},{"s":"n","t":1.8,"v":0.015},{"s":"n","t":1.9,"v":0.021},{"s":"n","t":2,"v":0.016},{"s":"n","t":2.1,"v":0.023},{"s":"n","t":2.2,"v":0.019},{"s":"n","t":2.3,"v":0.017},{"s":"n","t":2.4,"v":0.022},{"s":"n","t":2.5,"v":0.015},{"s":"n","t":2.6,"v":0.02},{"s":"n","t":2.7,"v":0.023},{"s":"n","t":2.8,"v":0.016},{"s":"n","t":2.9,"v":0.019},{"s":"n","t":3,"v":0.021},{"s":"n","t":3.05,"v":0.016},{"s":"n","t":3.095,"v":0.022},
          {"s":"n","t":3.1,"v":-0.002},{"s":"n","t":3.13,"v":0.001},{"s":"n","t":3.2,"v":0},{"s":"n","t":3.3,"v":0.001},{"s":"n","t":3.4,"v":0},{"s":"n","t":3.5,"v":0.001},{"s":"n","t":3.6,"v":0},

          {"s":"o","t":0,"v":0.004},{"s":"o","t":0.02,"v":0.002},{"s":"o","t":0.035,"v":-0.006},{"s":"o","t":0.045,"v":0.005},{"s":"o","t":0.06,"v":0.003},{"s":"o","t":0.08,"v":0.005},{"s":"o","t":0.099,"v":0.004},
          {"s":"o","t":0.1,"v":0.068},{"s":"o","t":0.105,"v":0.038},{"s":"o","t":0.12,"v":0.036},{"s":"o","t":0.15,"v":0.034},{"s":"o","t":0.2,"v":0.033},{"s":"o","t":0.3,"v":0.032},{"s":"o","t":0.4,"v":0.03},
          {"s":"o","t":0.5,"v":0.031},{"s":"o","t":0.6,"v":0.035},{"s":"o","t":0.7,"v":0.029},{"s":"o","t":0.8,"v":0.034},{"s":"o","t":0.9,"v":0.027},{"s":"o","t":1,"v":0.033},{"s":"o","t":1.1,"v":0.03},{"s":"o","t":1.2,"v":0.035},{"s":"o","t":1.3,"v":0.028},{"s":"o","t":1.4,"v":0.032},{"s":"o","t":1.5,"v":0.027},{"s":"o","t":1.6,"v":0.034},{"s":"o","t":1.7,"v":0.031},{"s":"o","t":1.8,"v":0.028},{"s":"o","t":1.9,"v":0.035},{"s":"o","t":2,"v":0.029},{"s":"o","t":2.1,"v":0.033},{"s":"o","t":2.2,"v":0.027},{"s":"o","t":2.3,"v":0.034},{"s":"o","t":2.4,"v":0.03},{"s":"o","t":2.5,"v":0.035},{"s":"o","t":2.6,"v":0.028},{"s":"o","t":2.7,"v":0.032},{"s":"o","t":2.8,"v":0.029},{"s":"o","t":2.9,"v":0.034},{"s":"o","t":3,"v":0.027},{"s":"o","t":3.05,"v":0.033},{"s":"o","t":3.095,"v":0.03},
          {"s":"o","t":3.1,"v":0},{"s":"o","t":3.13,"v":0.002},{"s":"o","t":3.2,"v":0.001},{"s":"o","t":3.3,"v":0},{"s":"o","t":3.4,"v":0.001},{"s":"o","t":3.5,"v":0},{"s":"o","t":3.6,"v":0.001}
        ]
      },
      "mark": {"type": "line", "color": "#000000", "strokeWidth": 2, "clip": true},
      "encoding": {
        "x": {
          "field": "t",
          "type": "quantitative",
          "scale": {"domain": [-0.007, 3.6], "nice": false, "zero": false},
          "axis": {
            "values": [0.1, 3.1],
            "format": ".1f",
            "title": "t [s]",
            "titleX": 302,
            "titleY": 63,
            "titleBaseline": "alphabetic",
            "titleAlign": "center",
            "labelBaseline": "alphabetic",
            "labelPadding": 37,
            "labelFlush": false
          }
        },
        "y": {
          "field": "v",
          "type": "quantitative",
          "scale": {"domain": [-1.106, 0.173], "nice": false, "zero": false},
          "axis": {
            "values": [0, -0.5, -1],
            "labelExpr": "toString(datum.value)",
            "title": "I [nA]",
            "titleAngle": 270,
            "titleX": -66,
            "titleY": 234,
            "titleAlign": "center",
            "titleBaseline": "alphabetic",
            "labelAlign": "center",
            "labelBaseline": "middle",
            "labelPadding": 41,
            "labelFlush": false
          }
        },
        "detail": {"field": "s"}
      }
    },
    {
      "data": {"values": [{"note": "25 °C\u00a0 Activation"}]},
      "mark": {"type": "text", "align": "right", "baseline": "alphabetic", "font": "DejaVu Sans", "fontSize": 19, "color": "#000000"},
      "encoding": {
        "x": {"datum": 3.598, "type": "quantitative"},
        "y": {"datum": 0.162, "type": "quantitative"},
        "text": {"field": "note"}
      }
    },
    {
      "data": {"values": [{"note": "BBP Channelpedia ID 40252 rep 3"}]},
      "mark": {"type": "text", "align": "center", "baseline": "middle", "angle": 270, "font": "DejaVu Sans", "fontSize": 13.5, "color": "#000000"},
      "encoding": {
        "x": {"datum": 3.669, "type": "quantitative"},
        "y": {"datum": -0.466, "type": "quantitative"},
        "text": {"field": "note"}
      }
    }
  ]
}
